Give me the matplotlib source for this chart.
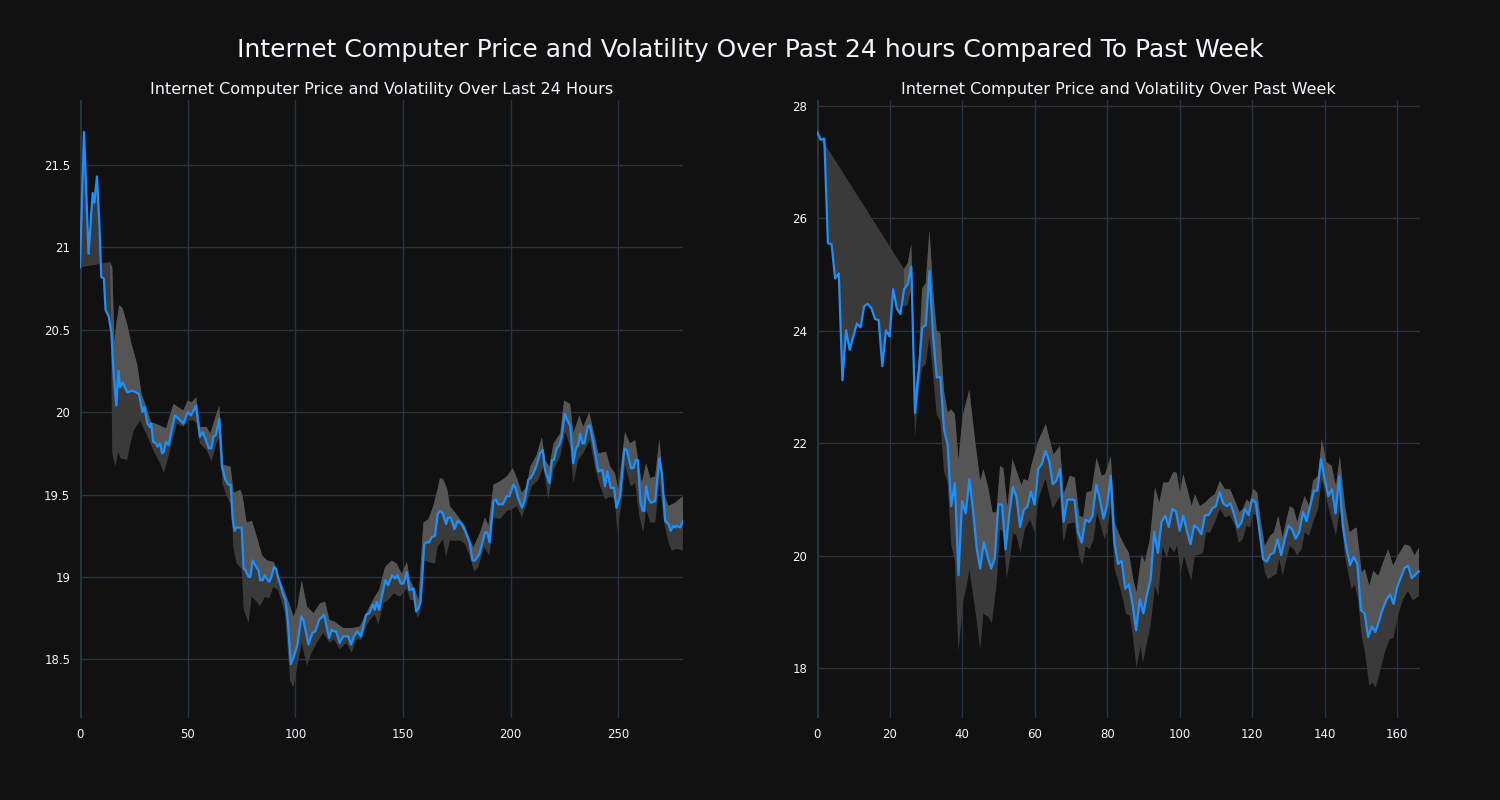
"""
 price and volatility band of Internet Computer, last 24 hours vs past week
"""

import numpy as np
import matplotlib
matplotlib.use("Agg")
import matplotlib.pyplot as plt
from matplotlib.ticker import FuncFormatter

BG = "#111111"
GRID = "#283442"
TEXT = "#f2f5fa"
LINE = "#1e8fff"
BAND_DARK = "#3a3a3a"
BAND_LIGHT = "#555555"

# last 24 hours: (sample, price)
day_price = [(0, 20.88), (1.9, 21.70), (4, 20.96), (5.9, 21.33), (6.7, 21.27), (7.9, 21.43), (9, 21.15), (9.9, 20.82),
             (11.1, 20.81), (11.9, 20.62), (13.4, 20.58), (14.6, 20.48), (15.7, 20.22), (16.9, 20.04), (17.9, 20.25),
             (18.6, 20.15), (19.8, 20.18), (22, 20.12), (24.4, 20.13), (26, 20.12), (27.4, 20.11), (29, 20.0),
             (29.9, 20.03), (31.3, 19.93), (32.5, 19.91), (33.1, 19.93), (34, 19.82), (35.3, 19.81), (36, 19.79),
             (37.2, 19.81), (38.1, 19.75), (39, 19.76), (40, 19.82), (41.2, 19.80), (42.6, 19.89), (44.1, 19.98),
             (45.8, 19.96), (48, 19.93), (50, 20.0), (51.6, 19.98), (53.9, 20.04), (55.7, 19.85), (57, 19.88),
             (58.2, 19.84), (59.9, 19.78), (61.1, 19.78), (61.9, 19.85), (63.1, 19.86), (64.7, 19.96), (65.9, 19.67),
             (67.5, 19.59), (68.9, 19.56), (70, 19.56), (70.9, 19.35), (71.8, 19.28), (72.8, 19.30), (75.1, 19.30),
             (76, 19.05), (76.9, 19.04), (78.3, 19.0), (79.1, 19.0), (80.2, 19.10), (81.4, 19.07), (82.9, 19.04),
             (83.7, 18.98), (84.8, 18.98), (85.7, 19.01), (86.7, 18.99), (87.9, 18.97), (88.9, 19.0), (90.1, 19.06),
             (91, 19.05), (92.3, 18.98), (93.2, 18.95), (94.1, 18.90), (95.4, 18.86), (96.6, 18.72), (97.9, 18.47),
             (99.4, 18.52), (101, 18.59), (102.8, 18.76), (103.7, 18.74), (106.1, 18.59), (107.9, 18.66),
             (109.3, 18.67), (111.1, 18.74), (113.4, 18.77), (115.7, 18.63), (116.9, 18.68), (117.9, 18.67),
             (118.9, 18.67), (120.6, 18.60), (122.2, 18.64), (124.5, 18.64), (125.9, 18.59), (127.3, 18.64),
             (128.8, 18.67), (130.4, 18.64), (131.3, 18.68), (132.8, 18.77), (134.4, 18.78), (135.9, 18.83),
             (136.9, 18.80), (137.8, 18.85), (138.9, 18.80), (140.3, 18.89), (141.8, 18.98), (143.1, 18.95),
             (144.9, 19.01), (146.3, 18.99), (147.4, 19.01), (149, 18.96), (150.2, 18.96), (151.8, 19.03),
             (153, 18.92), (154.8, 18.93), (156.1, 18.79), (157.2, 18.81), (158.2, 18.85), (159.9, 19.20),
             (161, 19.21), (162.1, 19.21), (163.3, 19.24), (164.9, 19.25), (166.1, 19.38), (167.2, 19.40),
             (168.3, 19.39), (170, 19.32), (170.9, 19.36), (172.2, 19.36), (173.9, 19.29), (175.4, 19.34),
             (177.3, 19.32), (178.8, 19.28), (180.9, 19.21), (182.3, 19.10), (183.5, 19.10), (185.5, 19.14),
             (188.1, 19.27), (189.1, 19.27), (190.2, 19.21), (192, 19.46), (193.1, 19.47), (194.2, 19.44),
             (196.3, 19.44), (198.2, 19.49), (199.4, 19.49), (201.3, 19.56), (202.3, 19.54), (203.4, 19.48),
             (205.3, 19.42), (206.4, 19.46), (208.2, 19.59), (209.3, 19.60), (210.6, 19.63), (212.1, 19.68),
             (213.6, 19.75), (214.9, 19.77), (215.9, 19.65), (218, 19.57), (219.2, 19.71), (220.1, 19.71),
             (221.4, 19.78), (222.6, 19.80), (223.7, 19.85), (225.1, 19.99), (226.3, 19.95), (227.6, 19.92),
             (229.1, 19.69), (230.3, 19.78), (231.4, 19.80), (232.2, 19.87), (233.4, 19.81), (234.2, 19.81),
             (235.8, 19.91), (236.8, 19.92), (238.7, 19.79), (240.7, 19.64), (242.6, 19.65), (243.8, 19.55),
             (244.9, 19.64), (246.5, 19.54), (248, 19.54), (249.1, 19.42), (250.8, 19.49), (252.8, 19.78),
             (253.9, 19.77), (255.9, 19.66), (257, 19.66), (258.1, 19.71), (259, 19.71), (260.3, 19.45),
             (261.3, 19.40), (262, 19.40), (262.9, 19.55), (264.1, 19.47), (265.2, 19.45), (267.1, 19.46),
             (269.1, 19.72), (270.3, 19.62), (271.7, 19.34), (273.3, 19.32), (274.3, 19.28), (275.6, 19.31),
             (276.4, 19.30), (277.1, 19.31), (278.7, 19.30), (280, 19.34)]

day_upper = [(14, 20.91), (15, 20.88), (16, 20.42), (17, 20.55), (18.3, 20.65), (19.8, 20.63), (22, 20.53),
             (24, 20.41), (26.6, 20.29), (28.6, 20.11), (30.6, 20.04), (33, 19.94), (37, 19.92), (40, 19.90),
             (43.4, 20.05), (45.7, 20.03), (48, 20.01), (50, 20.07), (52, 20.06), (54, 20.09), (55.7, 19.91),
             (58.8, 19.91), (60.5, 19.87), (63.4, 19.99), (64.7, 20.04), (66.6, 19.68), (69.9, 19.67),
             (71.4, 19.51), (74.5, 19.53), (75.5, 19.49), (77.4, 19.33), (79.9, 19.34), (82.2, 19.24),
             (84.6, 19.13), (86.9, 19.10), (90, 19.09), (91.5, 19.04), (93, 18.98), (96, 18.88), (99.2, 18.76),
             (101, 18.82), (103, 18.98), (105.4, 18.82), (108.5, 18.78), (111.5, 18.84), (113.8, 18.85),
             (115.8, 18.74), (118, 18.73), (122.2, 18.69), (126.8, 18.69), (130, 18.70), (133, 18.78),
             (136.9, 18.88), (138.9, 18.92), (141.7, 19.06), (144.8, 19.10), (147.1, 19.08), (149.4, 19.02),
             (151.8, 19.09), (153.3, 18.98), (155.6, 18.92), (157.2, 18.86), (159.5, 19.33), (161.8, 19.35),
             (164.1, 19.43), (166, 19.53), (167.2, 19.60), (168.8, 19.59), (170.6, 19.53), (171.8, 19.43),
             (174.2, 19.39), (176.5, 19.35), (178.8, 19.31), (181.2, 19.22), (182.7, 19.18), (185.8, 19.27),
             (188.1, 19.36), (189.7, 19.31), (192, 19.56), (195.1, 19.58), (198.2, 19.61), (201, 19.66),
             (202.9, 19.60), (205.2, 19.51), (207.5, 19.55), (209.1, 19.67), (212.1, 19.74), (214.5, 19.85),
             (216, 19.71), (218, 19.67), (219.9, 19.81), (223, 19.87), (224.8, 20.07), (227.6, 20.05),
             (229.1, 19.87), (231.9, 19.98), (233.7, 19.91), (236.5, 20.0), (238.7, 19.87), (240.7, 19.75),
             (244.3, 19.76), (246.2, 19.67), (248.4, 19.63), (250, 19.53), (253.1, 19.88), (255.4, 19.81),
             (257.8, 19.83), (259.3, 19.70), (260.9, 19.57), (262.9, 19.69), (264.8, 19.60), (267.1, 19.61),
             (269.1, 19.84), (271, 19.51), (273.3, 19.43), (276.4, 19.45), (280, 19.49)]

day_lower = [(14, 20.91), (15, 19.75), (16.4, 19.67), (17.9, 19.76), (18.8, 19.72), (21.9, 19.71), (23.5, 19.81),
             (25, 19.89), (28, 19.95), (29.6, 19.90), (31.5, 19.85), (34, 19.77), (37.2, 19.69), (39, 19.63),
             (40.5, 19.70), (42.6, 19.81), (45, 19.93), (48, 19.91), (50.3, 19.95), (52.6, 19.95), (54.2, 19.93),
             (55.7, 19.81), (58.8, 19.77), (61.1, 19.70), (63.4, 19.81), (65, 19.85), (66.1, 19.57), (68.1, 19.49),
             (70.4, 19.43), (71.2, 19.18), (72.8, 19.08), (75.1, 19.05), (76.1, 18.80), (78.3, 18.72),
             (79.7, 18.88), (82, 18.85), (83.6, 18.82), (85.9, 18.88), (87.9, 18.87), (89.8, 18.94), (92, 18.92),
             (95.2, 18.78), (97.6, 18.37), (99.1, 18.33), (101, 18.46), (103, 18.60), (105.4, 18.46),
             (107.6, 18.54), (110, 18.60), (113, 18.66), (115.8, 18.60), (118, 18.62), (120.6, 18.56),
             (123.7, 18.60), (126.2, 18.54), (128.3, 18.62), (130.7, 18.62), (133, 18.70), (134.7, 18.74),
             (136.9, 18.77), (138.6, 18.71), (140.9, 18.84), (143.2, 18.86), (145.6, 18.90), (148.7, 18.88),
             (151.8, 18.93), (153.3, 18.86), (155, 18.86), (156.7, 18.75), (157.9, 18.78), (159.9, 19.10),
             (161.8, 19.09), (164.9, 19.08), (166, 19.18), (168.5, 19.23), (170, 19.12), (171.8, 19.22),
             (174.2, 19.22), (176.5, 19.22), (178.8, 19.20), (181.2, 19.12), (183, 19.03), (185, 19.06),
             (187.7, 19.18), (190.2, 19.13), (192, 19.36), (195.1, 19.35), (198.2, 19.40), (200.5, 19.41),
             (202.9, 19.43), (205.2, 19.36), (207.5, 19.45), (209.8, 19.55), (212.9, 19.59), (215.2, 19.67),
             (217.5, 19.47), (219.9, 19.65), (223, 19.73), (225.3, 19.88), (227.6, 19.79), (229.1, 19.57),
             (231.4, 19.71), (233.7, 19.75), (236.8, 19.83), (239.1, 19.67), (241.1, 19.57), (243.8, 19.47),
             (246.5, 19.49), (248.4, 19.47), (249.5, 19.28), (251.5, 19.45), (253.1, 19.68), (255.7, 19.55),
             (257.8, 19.57), (259.7, 19.37), (261.6, 19.27), (262.9, 19.41), (264.8, 19.33), (267.1, 19.33),
             (269.1, 19.57), (271.3, 19.33), (273.3, 19.21), (274.8, 19.16), (277.1, 19.17), (280, 19.16)]

# past week: one price per sample 0..166
week_price = [27.54, 27.40, 27.42, 25.56, 25.54, 24.93, 25.02, 23.12, 24.01, 23.66,
              23.90, 24.13, 24.06, 24.44, 24.48, 24.40, 24.21, 24.19, 23.37, 24.01,
              23.90, 24.74, 24.40, 24.30, 24.74, 24.83, 25.14, 22.54, 23.24, 24.06,
              24.10, 25.06, 23.90, 23.17, 23.18, 22.25, 21.98, 20.88, 21.29, 19.65,
              20.97, 20.75, 21.36, 20.82, 20.14, 19.77, 20.24, 19.99, 19.77, 19.94,
              20.91, 20.91, 20.11, 20.73, 21.22, 21.04, 20.51, 20.81, 20.87, 21.14,
              20.91, 21.54, 21.63, 21.86, 21.69, 21.27, 21.33, 21.54, 20.60, 20.99,
              21.00, 20.99, 20.41, 20.23, 20.64, 20.60, 20.71, 21.26, 21.00, 20.66,
              20.90, 21.42, 20.23, 19.85, 19.91, 19.41, 19.49, 19.14, 18.67, 19.22,
              18.97, 19.31, 19.58, 20.42, 20.05, 20.60, 20.71, 20.51, 20.83, 20.78,
              20.44, 20.71, 20.44, 20.20, 20.54, 20.48, 20.38, 20.72, 20.72, 20.84,
              20.88, 21.13, 20.93, 20.88, 20.93, 20.74, 20.50, 20.58, 20.83, 20.72,
              21.00, 20.94, 20.44, 19.94, 19.89, 20.02, 20.05, 20.29, 20.01, 20.29,
              20.53, 20.47, 20.30, 20.42, 20.78, 20.61, 20.88, 21.15, 21.16, 21.72,
              21.36, 21.06, 21.18, 20.75, 21.41, 20.53, 20.13, 19.83, 19.98, 19.85,
              19.03, 18.97, 18.55, 18.74, 18.64, 18.84, 19.05, 19.21, 19.31, 19.14,
              19.44, 19.61, 19.78, 19.82, 19.60, 19.66, 19.72]

week_upper = [(24, 25.10), (25, 25.20), (26, 25.54), (27, 22.90), (28, 23.40), (29, 24.75), (30, 24.85),
              (31, 25.79), (32, 24.73), (33, 24.01), (34, 23.95), (35, 22.94), (36, 22.55), (37, 22.60),
              (38, 22.52), (39, 21.70), (40.2, 22.50), (42, 22.95), (43.6, 22.04), (45, 21.33), (45.9, 21.54),
              (47.2, 21.21), (48.4, 20.77), (49.5, 20.77), (50.5, 21.60), (51.4, 21.55), (52.5, 20.86),
              (53.9, 21.72), (55, 21.51), (56.4, 21.25), (57, 21.36), (58.2, 21.33), (59.2, 21.63), (61, 22.04),
              (63.1, 22.34), (65.2, 21.80), (67, 21.95), (68, 21.09), (69.7, 21.42), (71.1, 21.39),
              (72.3, 20.71), (73.4, 20.68), (74.3, 21.12), (75.7, 21.15), (77.1, 21.74), (78.5, 21.42),
              (79.5, 21.45), (81, 21.77), (82.1, 20.59), (83.5, 20.35), (84.9, 20.17), (86, 20.05),
              (87.2, 19.58), (88.1, 19.34), (89.5, 20.02), (90.4, 19.88), (91.8, 20.29), (93.2, 21.21),
              (94.4, 20.94), (95.5, 21.30), (96.9, 21.30), (98.3, 21.49), (99.2, 21.47), (100.1, 21.12),
              (101, 21.45), (102.4, 21.12), (103.3, 20.88), (104.2, 21.09), (105.6, 20.88), (107, 20.94),
              (108.3, 21.03), (109.7, 21.09), (111.1, 21.33), (112.5, 21.18), (113.9, 21.18), (115.3, 20.97),
              (116.5, 20.77), (117.4, 20.83), (118.5, 21.0), (119.4, 20.94), (120.3, 21.19), (121.4, 21.12),
              (122.3, 20.65), (123.5, 20.17), (124.9, 20.35), (126, 20.41), (127.2, 20.71), (128.4, 20.32),
              (129.5, 20.65), (130.4, 20.88), (131.5, 20.83), (132.4, 20.59), (133.6, 20.88), (134.5, 21.06),
              (135.7, 20.88), (136.8, 21.33), (138.2, 21.42), (139.2, 22.07), (140.5, 21.66), (141.9, 21.60),
              (143.1, 21.24), (144.2, 21.77), (145.6, 20.88), (146.9, 20.41), (147.9, 20.47), (148.8, 20.50),
              (150.2, 19.70), (151.1, 19.76), (152.3, 19.46), (153.4, 19.73), (154.8, 19.64), (156.1, 19.88),
              (157.5, 20.11), (158.9, 19.82), (160.2, 20.0), (162.1, 20.20), (163.5, 20.17), (164.8, 20.0),
              (166, 20.14)]

week_lower = [(24, 24.43), (25, 24.46), (26, 24.75), (27, 22.10), (28, 22.90), (29, 23.35), (30, 23.40),
              (31, 23.90), (32, 23.20), (33, 22.50), (34, 22.40), (35, 21.50), (36, 21.30), (37, 20.20),
              (38, 19.90), (39, 18.30), (40.4, 19.22), (41.3, 19.46), (42, 19.75), (43.1, 19.27), (44, 18.86),
              (45, 18.33), (45.9, 18.97), (47.2, 18.91), (48.2, 18.80), (49.5, 19.46), (50.5, 20.47),
              (51.4, 20.41), (52.3, 19.58), (53.2, 19.93), (54.1, 20.41), (55, 20.35), (56.1, 20.05),
              (57.3, 20.47), (58.7, 20.64), (60, 20.41), (61, 21.0), (63, 21.36), (65, 20.83), (67, 21.06),
              (68, 20.23), (69.1, 20.56), (71, 20.59), (72.3, 19.99), (73.2, 19.82), (74.1, 20.17),
              (75.2, 20.11), (76.3, 20.29), (77.2, 20.77), (78.4, 20.50), (79.3, 20.29), (80, 20.41),
              (81, 20.88), (82.1, 19.76), (83.3, 19.49), (84.4, 19.22), (85.2, 18.96), (86.3, 18.93),
              (87.2, 18.51), (88.1, 18.0), (89.2, 18.39), (89.9, 18.10), (91, 18.45), (92, 18.75), (93.2, 19.46),
              (94.1, 19.28), (95.3, 20.17), (96.4, 19.94), (97.3, 20.17), (98.4, 20.05), (99.3, 20.17),
              (100.3, 19.70), (101.2, 20.0), (102.2, 19.76), (103.2, 19.55), (104.2, 20.0), (105.6, 20.02),
              (106.5, 20.05), (107.3, 20.41), (108.4, 20.41), (109.7, 20.59), (111.1, 20.83), (112.5, 20.68),
              (113.9, 20.71), (115.3, 20.53), (116.3, 20.23), (117.4, 20.29), (118.5, 20.53), (119.4, 20.50),
              (120.3, 20.74), (121.4, 20.71), (122.3, 20.17), (123.5, 19.70), (124.4, 19.58), (125.8, 19.64),
              (126.7, 19.67), (127.5, 19.94), (128.4, 19.64), (129.5, 19.94), (130.4, 20.17), (131.5, 20.11),
              (132.4, 20.0), (133.6, 20.11), (134.5, 20.41), (135.7, 20.35), (136.8, 20.59), (138.2, 20.83),
              (139.2, 21.36), (140.5, 21.0), (141.9, 20.65), (143.1, 20.35), (144.2, 20.83), (145.6, 20.0),
              (146.5, 19.70), (147.4, 19.40), (148.3, 19.49), (149.2, 19.22), (150.2, 18.57), (151.1, 18.28),
              (152.3, 17.68), (153.2, 17.74), (154.1, 17.65), (155.2, 17.92), (156.6, 18.28), (157.9, 18.51),
              (159, 18.54), (160.2, 18.93), (161.6, 19.22), (163, 19.37), (164.3, 19.20), (166, 19.28)]

day_yticks = [18.5, 19, 19.5, 20, 20.5, 21, 21.5]
day_xticks = [0, 50, 100, 150, 200, 250]
week_yticks = [18, 20, 22, 24, 26, 28]
week_xticks = [0, 20, 40, 60, 80, 100, 120, 140, 160]


def split(pairs):
    arr = np.array(pairs, dtype=float)
    return arr[:, 0], arr[:, 1]


def draw_panel(ax, xp, yp, upper, lower, title, xlim, ylim, xticks, yticks):
    xu, yu = split(upper)
    xl, yl = split(lower)
    # band traces closed against the price line (like a "tonexty" fill)
    ax.fill(np.concatenate([xu, xp[::-1]]), np.concatenate([yu, yp[::-1]]),
            color=BAND_DARK, lw=0, zorder=1)
    ax.fill(np.concatenate([xl, xp[::-1]]), np.concatenate([yl, yp[::-1]]),
            color=BAND_DARK, lw=0, zorder=1)
    # lighter part between price and upper band
    m = (xp >= xu[0]) & (xp <= xu[-1])
    ax.fill(np.concatenate([xu, xp[m][::-1]]), np.concatenate([yu, yp[m][::-1]]),
            color=BAND_LIGHT, lw=0, zorder=2)
    ax.plot(xp, yp, color=LINE, lw=1.6, zorder=4)

    ax.set_facecolor(BG)
    ax.set_xlim(*xlim)
    ax.set_ylim(*ylim)
    ax.set_xticks(xticks)
    ax.set_yticks(yticks)
    ax.yaxis.set_major_formatter(FuncFormatter(lambda v, p: f"{v:g}"))
    ax.grid(True, color=GRID, lw=1, zorder=0)
    ax.set_axisbelow(True)
    ax.axvline(0, color=GRID, lw=2.2, zorder=0.5)
    for s in ax.spines.values():
        s.set_visible(False)
    ax.tick_params(colors=TEXT, labelsize=8.5, length=0, pad=7)
    ax.set_title(title, color=TEXT, fontsize=11.5, pad=4)


fig = plt.figure(figsize=(15, 8), dpi=100, facecolor=BG)
ax1 = fig.add_axes([0.0533, 0.1025, 0.402, 0.7725])
ax2 = fig.add_axes([0.5447, 0.1025, 0.402, 0.7725])

dx, dy = split(day_price)
draw_panel(ax1, dx, dy, day_upper, day_lower,
           "Internet Computer Price and Volatility Over Last 24 Hours",
           (0, 280), (18.144, 21.894), day_xticks, day_yticks)

wx = np.arange(len(week_price), dtype=float)
wy = np.array(week_price)
draw_panel(ax2, wx, wy, week_upper, week_lower,
           "Internet Computer Price and Volatility Over Past Week",
           (0, 166.3), (17.11, 28.107), week_xticks, week_yticks)

fig.text(0.5, 0.9375, "Internet Computer Price and Volatility Over Past 24 hours Compared To Past Week",
         color=TEXT, fontsize=18, ha="center", va="center")

fig.savefig("out.png", facecolor=BG)
